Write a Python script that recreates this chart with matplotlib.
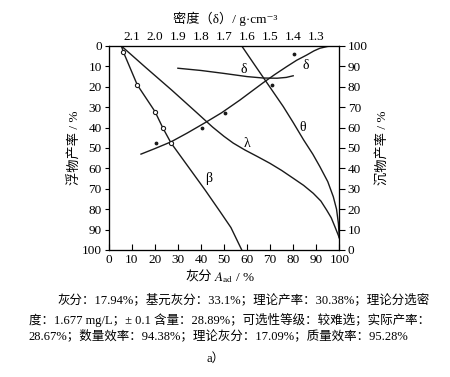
import matplotlib
import matplotlib.pyplot as plt

matplotlib.use("Agg")

plt.rcParams["font.family"] = ["Liberation Serif", "Noto Sans CJK SC", "DejaVu Serif"]
plt.rcParams["mathtext.fontset"] = "stix"

# curves: ash (x, %) vs float yield (y, %)
BETA_X = [5.5, 6.3, 12.4, 20.1, 23.4, 27.0, 34.5, 41.8, 48.3, 53.0, 57.7]
BETA_Y = [0, 2.8, 19.1, 32.2, 40.0, 47.5, 59.2, 70.6, 81.2, 89.0, 100]

LAMBDA_X = [5.5, 16, 27.3, 38, 45, 50, 54, 59.1, 64.5, 69.9, 75, 80.1, 84.5, 88.7, 92, 94.5, 96.5, 98.1, 100]
LAMBDA_Y = [0, 10.5, 21.6, 32.5, 39.7, 44.3, 47.6, 51.0, 54.2, 57.5, 61.0, 64.9, 68.3, 72.2, 76.0, 80.4, 84.2, 88.6, 94.0]

THETA_X = [57.7, 62.7, 67.8, 75.7, 80.0, 84.5, 88.5, 91.6, 95.0, 97.4, 98.8, 99.6, 100]
THETA_Y = [0, 8.3, 16.7, 29.7, 37.5, 46.0, 53.0, 59.2, 66.5, 73.9, 80.0, 86.9, 94.0]

DELTA_X = [14, 20, 27, 34, 41.8, 49, 56.9, 62, 67, 72, 77.2, 81.5, 85.9, 89, 91.6, 95, 98]
DELTA_Y = [53, 50.3, 47, 42.7, 37.6, 32.7, 26.5, 22.2, 18, 14.0, 10.1, 7.0, 4.4, 2.4, 1.1, 0.2, 0]

DELTA2_X = [30, 40, 49.7, 60, 67, 73, 77, 80]
DELTA2_Y = [10.9, 12.0, 13.4, 15.0, 15.7, 15.8, 15.4, 14.6]

CIRCLE_X = [6.3, 12.4, 20.1, 23.4, 27.0]
CIRCLE_Y = [2.8, 19.1, 32.2, 40.0, 47.5]

DOT_X = [20.5, 40.3, 50.4, 70.7, 80.5]
DOT_Y = [47.7, 40.4, 32.7, 19.3, 3.9]

ASH_TICKS = [0, 10, 20, 30, 40, 50, 60, 70, 80, 90, 100]
DENSITY_POS = [10, 20, 30, 40, 50, 60, 70, 80, 90]
DENSITY_LABELS = ["2.1", "2.0", "1.9", "1.8", "1.7", "1.6", "1.5", "1.4", "1.3"]

NOTES = [
    "灰分：17.94%；基元灰分：33.1%；理论产率：30.38%；理论分选密",
    "度：1.677 mg/L；± 0.1 含量：28.89%；可选性等级：较难选；实际产率：",
    "28.67%；数量效率：94.38%；理论灰分：17.09%；质量效率：95.28%",
]

INK = "#1a1a1a"


def main() -> None:
    fig = plt.figure(figsize=(4.5, 3.77), dpi=100)
    ax = fig.add_axes([0.2416, 0.3369, 0.5124, 0.5411])

    for xs, ys in [(BETA_X, BETA_Y), (LAMBDA_X, LAMBDA_Y), (THETA_X, THETA_Y),
                   (DELTA_X, DELTA_Y), (DELTA2_X, DELTA2_Y)]:
        ax.plot(xs, ys, color=INK, lw=1.0)
    ax.scatter(CIRCLE_X, CIRCLE_Y, s=9, facecolors="white", edgecolors=INK, lw=0.8, zorder=3)
    ax.scatter(DOT_X, DOT_Y, s=3, color=INK, zorder=3)

    ax.text(43.2, 64.9, "β", fontsize=10, ha="center", va="center")
    ax.text(59.8, 48.0, "λ", fontsize=10, ha="center", va="center")
    ax.text(84.0, 39.9, "θ", fontsize=10, ha="center", va="center")
    ax.text(85.3, 9.8, "δ", fontsize=10, ha="center", va="center")
    ax.text(58.4, 11.4, "δ", fontsize=10, ha="center", va="center")

    ax.set_xlim(0, 100)
    ax.set_ylim(100, 0)
    ax.set_xticks(ASH_TICKS)
    ax.set_yticks(ASH_TICKS)
    ax.tick_params(axis="x", direction="in", length=4, pad=3, labelsize=9.5)
    ax.tick_params(axis="y", direction="out", length=3, pad=2, labelsize=9.5)
    ax.set_ylabel("浮物产率 / %", fontsize=9.5, labelpad=0)
    for s in ax.spines.values():
        s.set_linewidth(0.8)

    axr = ax.twinx()
    axr.set_ylim(0, 100)
    axr.set_yticks(ASH_TICKS)
    axr.tick_params(axis="y", direction="out", length=4, pad=2, labelsize=9.5)
    axr.set_ylabel("沉物产率 / %", fontsize=9.5, labelpad=6)

    axt = ax.twiny()
    axt.set_xlim(0, 100)
    axt.set_xticks(DENSITY_POS)
    axt.set_xticklabels(DENSITY_LABELS)
    axt.tick_params(axis="x", length=0, pad=2, labelsize=9.5)

    fig.text(0.5, 0.950, "密度（δ）/ g·cm⁻³", ha="center", va="center", fontsize=9.5)
    fig.text(0.472, 0.263, "灰分", ha="right", va="center", fontsize=9.5)
    fig.text(0.476, 0.263, "$A_{\\mathrm{ad}}$ / %", ha="left", va="center", fontsize=9.5)

    fig.text(0.127, 0.204, NOTES[0], ha="left", va="center", fontsize=9.0)
    fig.text(0.064, 0.150, NOTES[1], ha="left", va="center", fontsize=9.0)
    fig.text(0.064, 0.109, NOTES[2], ha="left", va="center", fontsize=9.0)
    fig.text(0.478, 0.048, "a）", ha="center", va="center", fontsize=9.0)

    fig.savefig("out.png", dpi=100)


if __name__ == "__main__":
    main()
